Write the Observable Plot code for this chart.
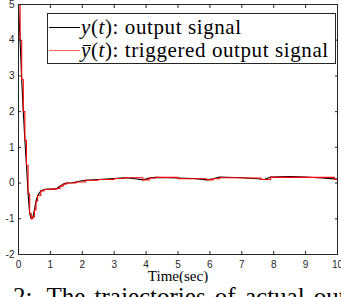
<!DOCTYPE html>
<html><head><meta charset="utf-8">
<script src="https://cdn.jsdelivr.net/npm/d3@7"></script>
<script src="https://cdn.jsdelivr.net/npm/@observablehq/plot@0.6"></script>
<style>
html,body{margin:0;padding:0;background:#fff;overflow:hidden;width:341px;height:297px}
#wrap{position:relative;width:341px;height:297px}
#legend{position:absolute;left:47px;top:13px;width:289px;height:51px;border:1px solid #262626;background:#fff;box-sizing:border-box;font-family:"Liberation Serif","Times New Roman",serif;font-size:21px;color:#000}
.row{position:absolute;left:0;height:22px;line-height:22px;white-space:nowrap}
.seg{position:absolute;left:1px;width:31px;height:0;border-top:1px solid}
.txt{position:absolute;left:33px;letter-spacing:0.6px}
.bar{position:relative;display:inline-block}
.bar::after{content:"";position:absolute;left:2px;right:0px;top:6px;border-top:1px solid #000}
#caption{position:absolute;left:13px;top:284px;font-family:"Liberation Serif","Times New Roman",serif;font-size:25px;line-height:25px;white-space:nowrap;word-spacing:3px;color:#000}
</style></head>
<body><div id="wrap"></div>
<script>
const xTicks = [0,1,2,3,4,5,6,7,8,9,10];
const yTicks = [-2,-1,0,1,2,3,4,5];
const xLabel = "Time(sec)";
const captionNumber = "2:";
const captionText = "The trajectories of actual out";
const legendLabels = ["output signal", "triggered output signal"];

// y(t): output signal
const t = [0,0.05,0.1,0.15,0.2,0.25,0.3,0.35,0.4,0.45,0.5,0.55,0.6,0.7,0.8,0.9,1.0,1.1,1.2,1.3,1.4,1.5,1.7,1.9,2.1,2.5,3.0,3.3,3.6,3.9,4.1,4.3,5.0,5.5,5.9,6.1,6.3,7.0,7.5,7.7,7.9,8.5,9.0,9.5,10];
const y = [5,4.0,2.9,2.0,1.2,0.5,-0.3,-0.85,-1.0,-0.95,-0.75,-0.5,-0.35,-0.22,-0.18,-0.17,-0.17,-0.17,-0.15,-0.09,-0.03,0.0,0.01,0.05,0.08,0.1,0.13,0.15,0.13,0.09,0.14,0.16,0.14,0.13,0.09,0.12,0.17,0.15,0.12,0.1,0.17,0.18,0.17,0.14,0.11];

// ybar(t): triggered output signal (held between triggers)
const rt = [0,0.05,0.1,0.15,0.2,0.25,0.3,0.35,0.4,0.45,0.5,0.55,0.6,0.7,0.8,1.0,1.2,1.3,1.4,1.5,1.8,2.1,2.5,3.0,3.3,3.9,4.1,4.3,5.0,5.9,6.1,6.3,7.0,7.6,7.9,8.5,9.9,10];
const ry = [5,4.0,2.9,2.0,1.2,0.5,-0.3,-0.85,-1.0,-0.95,-0.75,-0.5,-0.35,-0.22,-0.18,-0.17,-0.15,-0.09,-0.03,0.0,0.03,0.08,0.1,0.13,0.15,0.09,0.14,0.16,0.12,0.09,0.12,0.15,0.14,0.1,0.16,0.16,0.1,0.1];

const black = t.map((v,i)=>({t:v, y:y[i]}));
const red = rt.map((v,i)=>({t:v, y:ry[i]}));
const axisColor = "#262626";

const chart = Plot.plot({
  width: 341, height: 283,
  marginTop: 4, marginRight: 4, marginBottom: 29, marginLeft: 18,
  x: {domain: [0,10], axis: null},
  y: {domain: [-2,5], axis: null},
  style: {fontFamily: "'Liberation Sans', Arial, sans-serif", background: "#fff"},
  marks: [
    Plot.line(black, {x:"t", y:"y", stroke:"#000", strokeWidth:1.1}),
    Plot.line(red, {x:"t", y:"y", stroke:"#ff0000", strokeWidth:1.1, curve:"step-after"}),
    Plot.frame({stroke: axisColor}),
    Plot.axisX({anchor:"bottom", ticks:xTicks, tickSize:3, dy:-3, tickFormat:()=>"", stroke:axisColor, label:null}),
    Plot.axisX({anchor:"top", ticks:xTicks, tickSize:3, dy:3, tickFormat:()=>"", stroke:axisColor, label:null}),
    Plot.axisY({anchor:"left", ticks:yTicks, tickSize:3, dx:3, tickFormat:()=>"", stroke:axisColor, label:null}),
    Plot.axisY({anchor:"right", ticks:yTicks, tickSize:3, dx:-3, tickFormat:()=>"", stroke:axisColor, label:null}),
    Plot.axisX({anchor:"bottom", ticks:xTicks, tickSize:0, tickPadding:6, fontSize:10, fill:axisColor, label:null, tickFormat:d=>String(d)}),
    Plot.axisY({anchor:"left", ticks:yTicks, tickSize:0, tickPadding:4, fontSize:10, fill:axisColor, label:null, tickFormat:d=>String(d)}),
    Plot.text([xLabel], {text:d=>d, frameAnchor:"bottom", dy:26, fontSize:15, fontWeight:"normal", fontFamily:"'Liberation Serif', 'Times New Roman', serif", fill:"#000"})
  ]
});
const wrap = document.getElementById("wrap");
wrap.appendChild(chart);

const legend = document.createElement("div");
legend.id = "legend";
legend.innerHTML = `
<div class="row" style="top:2px"><div class="seg" style="top:11px;border-color:#000"></div><div class="txt"><i>y</i>(<i>t</i>): ${legendLabels[0]}</div></div>
<div class="row" style="top:25px"><div class="seg" style="top:11px;border-color:#ff6060"></div><div class="txt"><span class="bar"><i>y</i></span>(<i>t</i>): ${legendLabels[1]}</div></div>`;
wrap.appendChild(legend);

const cap = document.createElement("div");
cap.id = "caption";
cap.innerHTML = `${captionNumber}<span style="display:inline-block;width:14px"></span>${captionText}`;
wrap.appendChild(cap);
</script>
</body></html>
